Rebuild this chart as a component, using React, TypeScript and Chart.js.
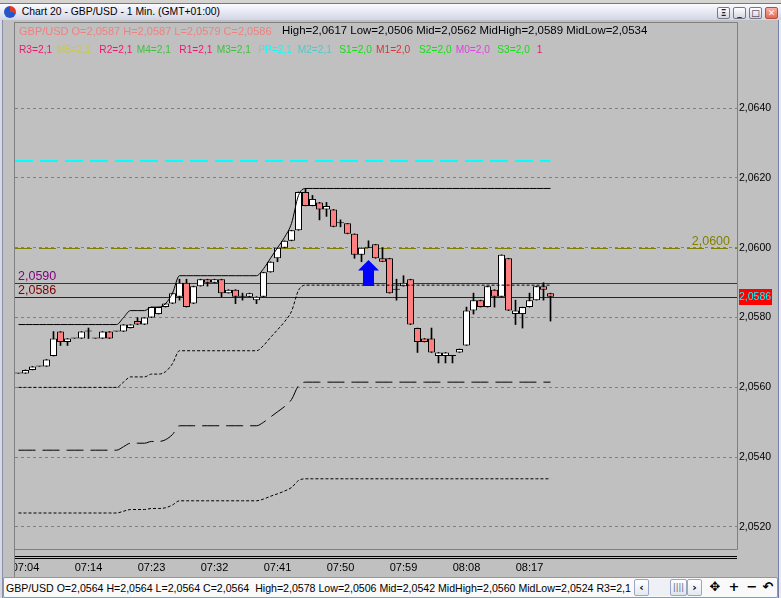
import React, { useEffect, useRef } from 'react';
import { Chart, registerables } from 'chart.js';

Chart.register(...registerables);

// ---------------- data ----------------
const tickIndices = [1, 10, 19, 28, 37, 46, 55, 64, 73];
const tickLabels = ['07:04', '07:14', '07:23', '07:32', '07:41', '07:50', '07:59', '08:08', '08:17'];
const priceTicks = [2.052, 2.054, 2.056, 2.058, 2.06, 2.062, 2.064];

const opens = [
  2.0564, 2.0564, 2.0565, 2.0566, 2.0566, 2.0569, 2.0576, 2.0573, 2.0574, 2.0574,
  2.0576, 2.0574, 2.0574, 2.0576, 2.0576, 2.0576, 2.0577, 2.0579, 2.0578, 2.058,
  2.0581, 2.0583, 2.0584, 2.0586, 2.059, 2.0584, 2.0589, 2.0591, 2.059, 2.0591,
  2.0587, 2.0588, 2.0586, 2.0586, 2.0585, 2.0586, 2.0593, 2.0597, 2.06, 2.0602,
  2.0605, 2.0616, 2.0612, 2.0613, 2.0611, 2.0611, 2.0607, 2.0607, 2.0604, 2.0598,
  2.06, 2.0601, 2.0597, 2.0597, 2.0588, 2.0589, 2.0591, 2.0577, 2.0574, 2.0574,
  2.0569, 2.0569, 2.0569, 2.057, 2.0572, 2.0582, 2.0585, 2.0583, 2.0588, 2.0586,
  2.0597, 2.0581, 2.0581, 2.0583, 2.0585, 2.0589, 2.0587,
];
const highs = [
  2.0564, 2.0565, 2.0566, 2.0566, 2.0568, 2.0576, 2.0576, 2.0574, 2.0574, 2.0576,
  2.0577, 2.0574, 2.0576, 2.0576, 2.0576, 2.0578, 2.0578, 2.058, 2.058, 2.0583,
  2.0583, 2.0584, 2.0587, 2.0591, 2.0591, 2.0589, 2.0591, 2.0591, 2.0591, 2.0591,
  2.0588, 2.0588, 2.0587, 2.0587, 2.0586, 2.0593, 2.0596, 2.06, 2.0602, 2.0605,
  2.0616, 2.0617, 2.0615, 2.0613, 2.0613, 2.0611, 2.0608, 2.0607, 2.0604, 2.06,
  2.0602, 2.0601, 2.06, 2.0597, 2.0591, 2.0592, 2.0591, 2.0577, 2.0574, 2.0577,
  2.057, 2.057, 2.0569, 2.0571, 2.0583, 2.0587, 2.0585, 2.0589, 2.0588, 2.0598,
  2.0597, 2.0585, 2.0583, 2.0587, 2.0589, 2.059, 2.0587,
];
const lows = [
  2.0564, 2.0564, 2.0565, 2.0566, 2.0566, 2.0569, 2.0572, 2.0572, 2.0574, 2.0574,
  2.0574, 2.0574, 2.0574, 2.0574, 2.0576, 2.0576, 2.0577, 2.0578, 2.0578, 2.058,
  2.0581, 2.0583, 2.0584, 2.0585, 2.0583, 2.0584, 2.0589, 2.0589, 2.059, 2.0586,
  2.0587, 2.0584, 2.0585, 2.0586, 2.0584, 2.0586, 2.0593, 2.0596, 2.06, 2.0602,
  2.0605, 2.0612, 2.0612, 2.0608, 2.0609, 2.0606, 2.0606, 2.0604, 2.0597, 2.0596,
  2.06, 2.0597, 2.0596, 2.0587, 2.0585, 2.0589, 2.0578, 2.057, 2.0573, 2.057,
  2.0567, 2.0567, 2.0567, 2.057, 2.0572, 2.0581, 2.0583, 2.0583, 2.0583, 2.0586,
  2.0582, 2.0578, 2.0577, 2.0583, 2.0585, 2.0585, 2.0579,
];
const closes = [
  2.0564, 2.0565, 2.0566, 2.0566, 2.0568, 2.0574, 2.0573, 2.0574, 2.0574, 2.0576,
  2.0576, 2.0574, 2.0576, 2.0574, 2.0576, 2.0578, 2.0578, 2.0578, 2.058, 2.0583,
  2.0583, 2.0584, 2.0587, 2.059, 2.0583, 2.0589, 2.0591, 2.059, 2.0591, 2.0587,
  2.0588, 2.0586, 2.0586, 2.0587, 2.0586, 2.0593, 2.0596, 2.06, 2.0602, 2.0605,
  2.0616, 2.0612, 2.0614, 2.0611, 2.0612, 2.0606, 2.0607, 2.0604, 2.0598, 2.06,
  2.06, 2.0597, 2.0596, 2.0587, 2.0588, 2.059, 2.0578, 2.0573, 2.0573, 2.057,
  2.057, 2.057, 2.0569, 2.0571, 2.0582, 2.0585, 2.0583, 2.0589, 2.0586, 2.0598,
  2.0582, 2.0582, 2.0583, 2.0585, 2.0589, 2.0588, 2.0586,
];

// session High line and its mid levels (Low = 2.0506 lies below the view)
const highLine = [
  2.0578, 2.0578, 2.0578, 2.0578, 2.0578, 2.0578, 2.0578, 2.0578, 2.0578, 2.0578,
  2.0578, 2.0578, 2.0578, 2.0578, 2.0578, 2.058, 2.0582, 2.0582, 2.0582, 2.0583,
  2.0583, 2.0584, 2.0587, 2.0592, 2.0592, 2.0592, 2.0592, 2.0592, 2.0592, 2.0592,
  2.0592, 2.0592, 2.0592, 2.0592, 2.0592, 2.0594, 2.0597, 2.06, 2.0603, 2.0607,
  2.0615, 2.0617, 2.0617, 2.0617, 2.0617, 2.0617, 2.0617, 2.0617, 2.0617, 2.0617,
  2.0617, 2.0617, 2.0617, 2.0617, 2.0617, 2.0617, 2.0617, 2.0617, 2.0617, 2.0617,
  2.0617, 2.0617, 2.0617, 2.0617, 2.0617, 2.0617, 2.0617, 2.0617, 2.0617, 2.0617,
  2.0617, 2.0617, 2.0617, 2.0617, 2.0617, 2.0617, 2.0617,
];
const midHighLine = [
  2.056, 2.056, 2.056, 2.056, 2.056, 2.056, 2.056, 2.056, 2.056, 2.056,
  2.056, 2.056, 2.056, 2.056, 2.056, 2.05615, 2.0563, 2.0563, 2.0563, 2.05638,
  2.05638, 2.05645, 2.05668, 2.05705, 2.05705, 2.05705, 2.05705, 2.05705, 2.05705, 2.05705,
  2.05705, 2.05705, 2.05705, 2.05705, 2.05705, 2.0572, 2.05743, 2.05765, 2.05788, 2.05818,
  2.05878, 2.05893, 2.05893, 2.05893, 2.05893, 2.05893, 2.05893, 2.05893, 2.05893, 2.05893,
  2.05893, 2.05893, 2.05893, 2.05893, 2.05893, 2.05893, 2.05893, 2.05893, 2.05893, 2.05893,
  2.05893, 2.05893, 2.05893, 2.05893, 2.05893, 2.05893, 2.05893, 2.05893, 2.05893, 2.05893,
  2.05893, 2.05893, 2.05893, 2.05893, 2.05893, 2.05893, 2.05893,
];
const midLine = [
  2.0542, 2.0542, 2.0542, 2.0542, 2.0542, 2.0542, 2.0542, 2.0542, 2.0542, 2.0542,
  2.0542, 2.0542, 2.0542, 2.0542, 2.0542, 2.0543, 2.0544, 2.0544, 2.0544, 2.05445,
  2.05445, 2.0545, 2.05465, 2.0549, 2.0549, 2.0549, 2.0549, 2.0549, 2.0549, 2.0549,
  2.0549, 2.0549, 2.0549, 2.0549, 2.0549, 2.055, 2.05515, 2.0553, 2.05545, 2.05565,
  2.05605, 2.05615, 2.05615, 2.05615, 2.05615, 2.05615, 2.05615, 2.05615, 2.05615, 2.05615,
  2.05615, 2.05615, 2.05615, 2.05615, 2.05615, 2.05615, 2.05615, 2.05615, 2.05615, 2.05615,
  2.05615, 2.05615, 2.05615, 2.05615, 2.05615, 2.05615, 2.05615, 2.05615, 2.05615, 2.05615,
  2.05615, 2.05615, 2.05615, 2.05615, 2.05615, 2.05615, 2.05615,
];
const midLowLine = [
  2.0524, 2.0524, 2.0524, 2.0524, 2.0524, 2.0524, 2.0524, 2.0524, 2.0524, 2.0524,
  2.0524, 2.0524, 2.0524, 2.0524, 2.0524, 2.05245, 2.0525, 2.0525, 2.0525, 2.05253,
  2.05253, 2.05255, 2.05263, 2.05275, 2.05275, 2.05275, 2.05275, 2.05275, 2.05275, 2.05275,
  2.05275, 2.05275, 2.05275, 2.05275, 2.05275, 2.0528, 2.05288, 2.05295, 2.05303, 2.05313,
  2.05333, 2.05338, 2.05338, 2.05338, 2.05338, 2.05338, 2.05338, 2.05338, 2.05338, 2.05338,
  2.05338, 2.05338, 2.05338, 2.05338, 2.05338, 2.05338, 2.05338, 2.05338, 2.05338, 2.05338,
  2.05338, 2.05338, 2.05338, 2.05338, 2.05338, 2.05338, 2.05338, 2.05338, 2.05338, 2.05338,
  2.05338, 2.05338, 2.05338, 2.05338, 2.05338, 2.05338, 2.05338,
];

const pivotPP = 2.0625;
const roundLevel = 2.06;
const markLevelA = 2.059;
const markLevelB = 2.0586;
const buySignalIndex = 50;
const buySignalPrice = 2.05965;

const titleText = 'Chart 20 - GBP/USD - 1 Min. (GMT+01:00)';
const legendQuote = 'GBP/USD O=2,0587 H=2,0587 L=2,0579 C=2,0586';
const legendStats = 'High=2,0617 Low=2,0506 Mid=2,0562 MidHigh=2,0589 MidLow=2,0534';
const pivotNames = ['R3=2,1', 'M5=2,1', 'R2=2,1', 'M4=2,1', 'R1=2,1', 'M3=2,1', 'PP=2,1', 'M2=2,1', 'S1=2,0', 'M1=2,0', 'S2=2,0', 'M0=2,0', 'S3=2,0', '1'];
const statusText = 'GBP/USD O=2,0564 H=2,0564 L=2,0564 C=2,0564  High=2,0578 Low=2,0506 Mid=2,0542 MidHigh=2,0560 MidLow=2,0524 R3=2,1';

// ---------------- styles ----------------
const FONT = '"Liberation Sans", Arial, sans-serif';
const pivotColors = ['#F0186E', '#C8C850', '#F0186E', '#40C040', '#F0186E', '#40C040', '#00FFFF', '#50C8C8', '#10E010', '#D03838', '#10E010', '#E040E0', '#10E010', '#F0186E'];
const pivotX = [19, 56.7, 99.3, 136.7, 179.3, 216.7, 258.3, 297.7, 339.3, 376, 419, 455.7, 497.3, 536.7];

const fmt = (v: number) => v.toFixed(4).replace('.', ',');

export default function App() {
  const ref = useRef<HTMLCanvasElement | null>(null);

  useEffect(() => {
    const canvas = ref.current;
    if (!canvas) return;
    const last = closes.length - 1;

    const bgPlugin = {
      id: 'bg',
      beforeDraw(chart: any) {
        const { ctx } = chart;
        ctx.save();
        ctx.fillStyle = '#C0C0C0';
        ctx.fillRect(0, 0, chart.width, chart.height);
        ctx.restore();
      },
    };

    const levelPlugin = {
      id: 'levels',
      beforeDatasetsDraw(chart: any) {
        const { ctx, chartArea: a, scales } = chart;
        const x = scales.x;
        const y = scales.y;
        ctx.save();
        ctx.beginPath();
        ctx.rect(a.left, a.top, a.right - a.left, a.bottom - a.top);
        ctx.clip();
        const hline = (v: number, x0: number, x1: number, color: string, w: number, dash: number[]) => {
          const py = Math.round(y.getPixelForValue(v)) + (w % 2 ? 0.5 : 0);
          ctx.strokeStyle = color;
          ctx.lineWidth = w;
          ctx.setLineDash(dash);
          ctx.beginPath();
          ctx.moveTo(x0, py);
          ctx.lineTo(x1, py);
          ctx.stroke();
          return py;
        };
        hline(pivotPP, a.left, x.getPixelForValue(last), '#00FFFF', 2, [18, 7]);
        const pyR = hline(roundLevel, a.left, a.right, '#808000', 1, [17, 7]);
        const pyA = hline(markLevelA, a.left, a.right, '#800080', 1, []);
        const pyB = hline(markLevelB, a.left, a.right, '#800000', 1, []);
        ctx.setLineDash([]);
        ctx.font = `12.5px ${FONT}`;
        ctx.textBaseline = 'alphabetic';
        ctx.textAlign = 'left';
        ctx.fillStyle = '#800080';
        ctx.fillText(fmt(markLevelA), a.left + 3, pyA - 4);
        ctx.fillStyle = '#800000';
        ctx.fillText(fmt(markLevelB), a.left + 3, pyB - 4);
        ctx.textAlign = 'right';
        ctx.fillStyle = '#808000';
        ctx.fillText(fmt(roundLevel), a.right - 7, pyR - 4);
        ctx.restore();
      },
      afterDatasetsDraw(chart: any) {
        const { ctx, scales } = chart;
        const cx = scales.x.getPixelForValue(buySignalIndex);
        const ty = scales.y.getPixelForValue(buySignalPrice);
        ctx.save();
        ctx.fillStyle = '#0000FF';
        ctx.beginPath();
        ctx.moveTo(cx, ty);
        ctx.lineTo(cx + 10.5, ty + 10.5);
        ctx.lineTo(cx + 5.5, ty + 10.5);
        ctx.lineTo(cx + 5.5, ty + 26);
        ctx.lineTo(cx - 5.5, ty + 26);
        ctx.lineTo(cx - 5.5, ty + 10.5);
        ctx.lineTo(cx - 10.5, ty + 10.5);
        ctx.closePath();
        ctx.fill();
        ctx.restore();
      },
      afterDraw(chart: any) {
        const { ctx, chartArea: a, scales } = chart;
        ctx.save();
        // hide label overflow left of the plot
        ctx.fillStyle = '#C0C0C0';
        ctx.fillRect(3, a.bottom + 1, a.left - 3, 26);
        // plot frame
        ctx.strokeStyle = '#808080';
        ctx.lineWidth = 1;
        ctx.beginPath();
        ctx.moveTo(a.left - 0.5, a.top + 0.5);
        ctx.lineTo(a.right + 0.5, a.top + 0.5);
        ctx.lineTo(a.right + 0.5, a.bottom - 0.5);
        ctx.lineTo(a.left - 0.5, a.bottom - 0.5);
        ctx.moveTo(a.left - 0.5, a.top);
        ctx.lineTo(a.left - 0.5, 577);
        ctx.stroke();
        // double rule under the plot
        ctx.strokeStyle = '#000000';
        ctx.beginPath();
        ctx.moveTo(a.left, a.bottom + 6.5);
        ctx.lineTo(a.right, a.bottom + 6.5);
        ctx.moveTo(a.left, a.bottom + 8.5);
        ctx.lineTo(a.right, a.bottom + 8.5);
        ctx.stroke();
        // current price marker on the axis
        const py = Math.round(scales.y.getPixelForValue(closes[last]));
        ctx.fillStyle = '#FF0000';
        ctx.fillRect(a.right + 2, py - 8, 33, 16);
        ctx.fillStyle = '#00FFFF';
        ctx.font = `10.5px ${FONT}`;
        ctx.textAlign = 'left';
        ctx.textBaseline = 'middle';
        ctx.fillText(fmt(closes[last]), a.right + 2, py + 0.5);
        // window side borders
        ctx.fillStyle = '#D8D8E2';
        ctx.fillRect(0, 20, 2, 578);
        ctx.fillStyle = '#8890A8';
        ctx.fillRect(2, 20, 1, 578);
        ctx.fillStyle = '#7480A6';
        ctx.fillRect(778, 20, 1, 578);
        ctx.fillStyle = '#E8E8F0';
        ctx.fillRect(779, 20, 2, 578);
        ctx.restore();
      },
    };

    const line = (label: string, values: number[], dash: number[]) => ({
      type: 'line' as const,
      label,
      data: values.map((v, i) => ({ x: i, y: v })),
      borderColor: '#000000',
      borderWidth: 1,
      borderDash: dash,
      pointRadius: 0,
      cubicInterpolationMode: 'monotone' as const,
      order: 1,
    });

    const chart = new Chart(canvas, {
      type: 'bar',
      data: {
        datasets: [
          line('High', highLine, []),
          line('MidHigh', midHighLine, [3, 2]),
          line('Mid', midLine, [17, 7]),
          line('MidLow', midLowLine, [3, 2]),
          {
            type: 'bar',
            label: 'Wicks',
            data: lows.map((l, i) => ({ x: i, y: [l, highs[i]] })) as any,
            backgroundColor: '#000000',
            borderWidth: 0,
            barThickness: 1,
            grouped: false,
            order: 3,
          } as any,
          {
            type: 'bar',
            label: 'GBP/USD',
            data: opens.map((o, i) => ({ x: i, y: [o, closes[i]] })) as any,
            backgroundColor: opens.map((o, i) => (closes[i] > o ? '#FFFFFF' : closes[i] < o ? '#FF8080' : '#000000')),
            borderColor: '#000000',
            borderWidth: 1,
            borderSkipped: false,
            barThickness: 7,
            minBarLength: 1,
            inflateAmount: 0,
            grouped: false,
            order: 2,
          } as any,
        ],
      },
      options: {
        animation: false,
        responsive: false,
        devicePixelRatio: 1,
        events: [],
        layout: { padding: { left: 15, top: 22, right: 3, bottom: 20 } },
        plugins: { legend: { display: false }, tooltip: { enabled: false } },
        scales: {
          x: {
            type: 'linear',
            offset: false,
            min: -0.5,
            max: -0.5 + 722 / 7,
            grid: { display: false, drawTicks: false },
            border: { display: false },
            afterBuildTicks: (s: any) => {
              s.ticks = tickIndices.map((v) => ({ value: v }));
            },
            afterFit: (s: any) => {
              s.height = 28;
            },
            ticks: {
              autoSkip: false,
              maxRotation: 0,
              padding: 11,
              color: '#000000',
              font: { family: FONT, size: 11 },
              callback: (v: any) => {
                const k = tickIndices.indexOf(Number(v));
                return k >= 0 ? tickLabels[k] : '';
              },
            },
          },
          y: {
            type: 'linear',
            position: 'right',
            min: 2.05134,
            max: 2.06647,
            grid: { color: '#808080', lineWidth: 1, drawTicks: false },
            border: { display: false, dash: [3, 3] },
            afterBuildTicks: (s: any) => {
              s.ticks = priceTicks.map((v) => ({ value: v }));
            },
            afterFit: (s: any) => {
              s.width = 41;
            },
            ticks: {
              padding: 2,
              color: '#000000',
              font: { family: FONT, size: 10.5 },
              callback: (v: any) => fmt(Number(v)),
            },
          },
        },
      } as any,
      plugins: [bgPlugin, levelPlugin],
    });

    return () => chart.destroy();
  }, []);

  const btn = (left: number, content: React.ReactNode, close = false) => (
    <div
      style={{
        position: 'absolute',
        left,
        top: 3,
        width: 13,
        height: 12,
        boxSizing: 'border-box',
        border: '1px solid ' + (close ? '#B05040' : '#76788A'),
        borderRadius: 2,
        background: close ? 'linear-gradient(#F9B0A0, #E86650)' : 'linear-gradient(#FFFFFF, #D4D6DE)',
        color: close ? '#FFFFFF' : '#202030',
        fontSize: 9,
        lineHeight: '10px',
        textAlign: 'center',
        fontFamily: '"DejaVu Sans", sans-serif',
        fontWeight: 'bold',
      }}
    >
      {content}
    </div>
  );

  const ctrl = (left: number, width: number, content: React.ReactNode, boxed: boolean) => (
    <div
      style={{
        position: 'absolute',
        left,
        top: 1,
        width,
        height: 17,
        boxSizing: 'border-box',
        border: boxed ? '1px solid #98A6C4' : 'none',
        borderRadius: 2,
        background: boxed ? 'linear-gradient(#FFFFFF, #E4E8F0)' : 'transparent',
        fontFamily: '"DejaVu Sans", sans-serif',
        fontSize: boxed ? 11 : 13,
        lineHeight: '15px',
        textAlign: 'center',
        color: '#000000',
        fontWeight: 'bold',
      }}
    >
      {content}
    </div>
  );

  return (
    <div style={{ position: 'fixed', left: 0, top: 0, width: 781, height: 598, overflow: 'hidden', background: '#C0C0C0' }}>
      <canvas ref={ref} width={781} height={598} style={{ position: 'absolute', left: 0, top: 0, width: 781, height: 598 }} />

      {/* strip above the window */}
      <div style={{ position: 'absolute', left: 0, top: 0, width: 781, height: 3, background: '#D6D4D0' }} />

      {/* title bar */}
      <div
        style={{
          position: 'absolute',
          left: 0,
          top: 3,
          width: 781,
          height: 17,
          boxSizing: 'border-box',
          borderTop: '1px solid #6F7796',
          background: 'linear-gradient(#FBFBFE, #D2D5E6)',
        }}
      >
        <div
          style={{
            position: 'absolute',
            left: 4,
            top: 2,
            width: 12,
            height: 12,
            borderRadius: '50%',
            background: 'conic-gradient(#E23A22 0deg 100deg, #2456C8 100deg 360deg)',
          }}
        />
        <div
          style={{
            position: 'absolute',
            left: 21.7,
            top: 2.8,
            fontFamily: FONT,
            fontSize: 10.4,
            lineHeight: '10.4px',
            color: '#000000',
            whiteSpace: 'pre',
          }}
        >
          {titleText}
        </div>
        {btn(717, 'Ξ')}
        {btn(733, '_')}
        {btn(749, '□')}
        {btn(765, '✕', true)}
      </div>

      {/* legend rows inside the plot */}
      <div style={{ position: 'absolute', left: 19, top: 25.5, fontFamily: FONT, fontSize: 11, lineHeight: '11px', color: '#F08080', whiteSpace: 'pre' }}>
        {legendQuote}
      </div>
      <div style={{ position: 'absolute', left: 282, top: 25.3, fontFamily: FONT, fontSize: 11.45, lineHeight: '11.45px', color: '#000000', whiteSpace: 'pre' }}>
        {legendStats}
      </div>
      {pivotNames.map((t, i) => (
        <div
          key={t + i}
          style={{ position: 'absolute', left: pivotX[i], top: 44.9, fontFamily: FONT, fontSize: 10.2, lineHeight: '10.2px', color: pivotColors[i], whiteSpace: 'pre' }}
        >
          {t}
        </div>
      ))}

      {/* status bar */}
      <div
        style={{
          position: 'absolute',
          left: 3,
          top: 577,
          width: 775,
          height: 21,
          boxSizing: 'border-box',
          border: '1px solid #7F9DB9',
          borderRadius: 2,
          background: '#F9F9F9',
        }}
      >
        <div style={{ position: 'absolute', left: 2, top: 4.7, fontFamily: FONT, fontSize: 10.6, lineHeight: '10.6px', color: '#000000', whiteSpace: 'pre' }}>
          {statusText}
        </div>
        {ctrl(630, 15, '‹', true)}
        <div style={{ position: 'absolute', left: 645, top: 1, width: 38, height: 17, background: '#EEF0F5' }} />
        <div
          style={{
            position: 'absolute',
            left: 666,
            top: 1,
            width: 17,
            height: 17,
            boxSizing: 'border-box',
            border: '1px solid #98A6C4',
            borderRadius: 2,
            background: 'linear-gradient(#FFFFFF, #DDE3EE)',
            fontSize: 8,
            lineHeight: '15px',
            textAlign: 'center',
            color: '#506080',
            fontFamily: '"DejaVu Sans", sans-serif',
          }}
        >
          ||||
        </div>
        {ctrl(683, 15, '›', true)}
        {ctrl(703, 16, '✥', false)}
        {ctrl(722, 16, '+', false)}
        {ctrl(740, 16, '−', false)}
        {ctrl(756, 16, '↶', false)}
      </div>
    </div>
  );
}
